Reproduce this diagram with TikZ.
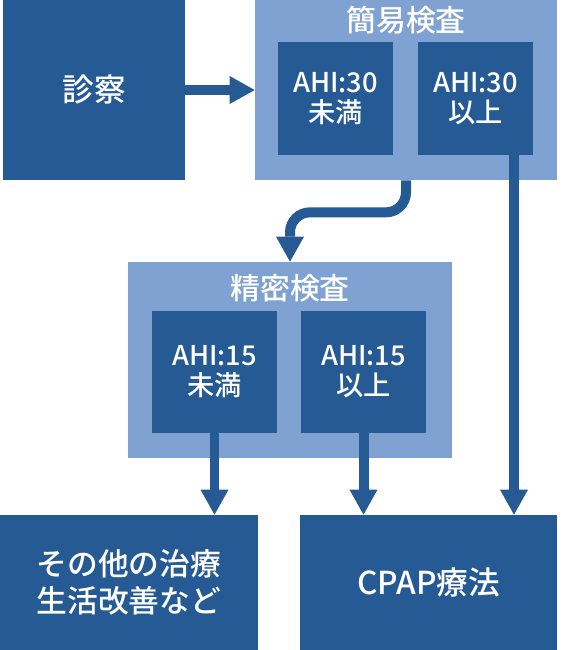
\documentclass[tikz,border=0pt]{standalone}
\usepackage{fontspec}
\setmainfont{Noto Sans CJK JP Medium}
\usetikzlibrary{arrows.meta}
\definecolor{darkblue}{RGB}{37,90,148}
\definecolor{lightblue}{RGB}{127,162,211}
\begin{document}
\begin{tikzpicture}[x=0.02cm, y=-0.02cm,
        box/.style={fill=darkblue, text=white, inner sep=0pt, align=center},
        group/.style={fill=lightblue, inner sep=0pt},
        title/.style={text=white, font=\fontsize{17}{20}\selectfont},
        flow/.style={draw=darkblue, line width=0.2cm, -{Triangle[width=0.56cm, length=0.5cm, line width=0pt]}}]
        \useasboundingbox (0,0) rectangle (566,650);
        % outer groups
        \node[group, minimum width=6.04cm, minimum height=3.6cm] (kan) at (406,90) {};
        \node[group, minimum width=6.48cm, minimum height=3.92cm] (sei) at (290,360) {};
        \node[title] (kant) at (406,20) {簡易検査};
        \node[title] (seit) at (290,288) {精密検査};
        % main boxes
        \node[box, minimum width=3.64cm, minimum height=3.6cm, font=\fontsize{18}{21}\selectfont] (shin) at (94,90) {診察};
        \node[box, minimum width=5.16cm, minimum height=2.7cm, font=\fontsize{17.5}{21}\selectfont] (other) at (129,582.5) {その他の治療\\生活改善など};
        \node[box, minimum width=5.14cm, minimum height=2.7cm, font=\fontsize{18}{21}\selectfont] (cpap) at (428.5,582.5) {CPAP療法};
        % inner boxes
        \foreach \n/\x/\y/\w/\h/\t in {kl/335.5/98.5/2.3/2.26/{AHI:30\\未満}, kr/475.5/98.5/2.3/2.26/{AHI:30\\以上},
                sl/214.5/372/2.5/2.44/{AHI:15\\未満}, sr/363.5/372/2.5/2.44/{AHI:15\\以上}} {
                \node[box, minimum width=\w cm, minimum height=\h cm, font=\fontsize{15.5}{17}\selectfont] (\n) at (\x,\y) {\t};
            }
        % arrows
        \draw[flow] (shin) -- (kan);
        \draw[flow, rounded corners=0.4cm] (kan.south) -- ++(0,32) -| (sei.north);
        \draw[flow] (sl.south) -- (sl.south |- other.north);
        \draw[flow] (sr.south) -- (sr.south |- cpap.north);
        \draw[flow] ([xshift=0.77cm]kr.south) -- ([xshift=0.77cm]kr.south |- cpap.north);
    \end{tikzpicture}
\end{document}
